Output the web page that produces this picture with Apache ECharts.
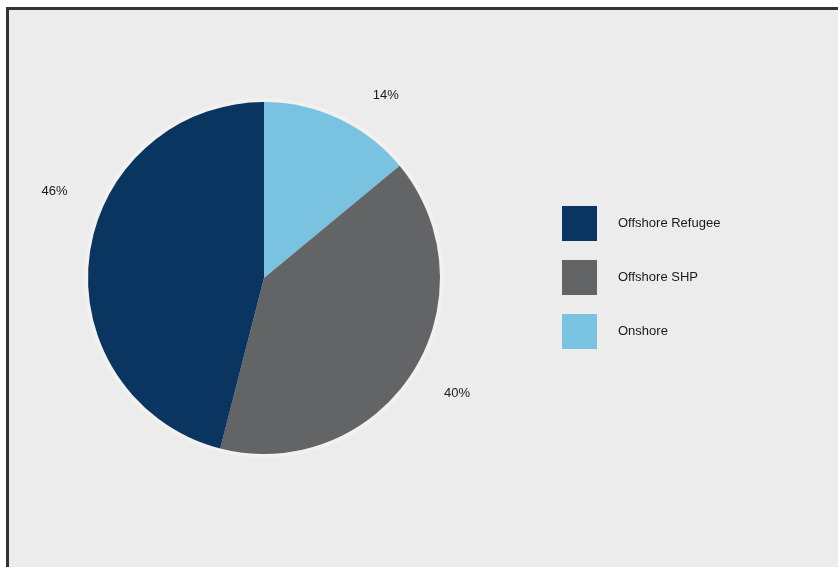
<!DOCTYPE html>
<html>
<head>
<meta charset="utf-8">
<script src="https://cdn.jsdelivr.net/npm/echarts@6/dist/echarts.min.js"></script>
<style>
  html, body { margin: 0; padding: 0; background: #ffffff; }
  #frame {
    position: absolute; left: 6px; top: 7px; right: 0; bottom: 0;
    border-top: 3px solid #333; border-left: 3px solid #333;
    background: #ebeceb;
  }
  #pie { position: absolute; left: 0; top: 0; width: 838px; height: 567px; }
</style>
</head>
<body>
<div id="frame"></div>
<div id="pie"></div>
<script>
// slices clockwise from 12 o'clock
const categories = ['Onshore', 'Offshore SHP', 'Offshore Refugee']
const shares = [14, 40, 46]
const colors = ['#79c3e1', '#636466', '#0a3561']
const legendOrder = ['Offshore Refugee', 'Offshore SHP', 'Onshore']
// nudges for the % labels, same order as categories
const labelShift = [[16, 4], [1, 5], [13, -61]]

let chart = echarts.init(document.getElementById('pie'))
let option = {
  animation: false,
  textStyle: { fontFamily: 'Liberation Sans, Arial, sans-serif' },
  legend: {
    data: legendOrder,
    orient: 'vertical',
    left: 557,
    top: 201,
    itemWidth: 35,
    itemHeight: 35,
    itemGap: 19,
    icon: 'rect',
    textStyle: { color: '#1a1a1a', fontSize: 13, padding: [0, 0, 0, 16] }
  },
  series: [
    {
      // faint halo round the pie
      type: 'pie',
      silent: true,
      center: [264, 278],
      radius: 180,
      label: { show: false },
      labelLine: { show: false },
      itemStyle: { color: '#f3f1ef' },
      data: [{ value: 1, name: '' }]
    },
    {
      type: 'pie',
      center: [264, 278],
      radius: 176,
      startAngle: 90,
      clockwise: true,
      label: {
        show: true,
        position: 'outside',
        formatter: '{c}%',
        color: '#1a1a1a',
        fontSize: 13
      },
      labelLine: { show: false, length: 30, length2: 0 },
      labelLayout: function (p) {
        let s = labelShift[p.dataIndex]
        return { dx: s[0], dy: s[1] }
      },
      data: categories.map((name, i) => ({
        name: name,
        value: shares[i],
        itemStyle: { color: colors[i] }
      }))
    }
  ]
}
chart.setOption(option)
</script>
</body>
</html>
